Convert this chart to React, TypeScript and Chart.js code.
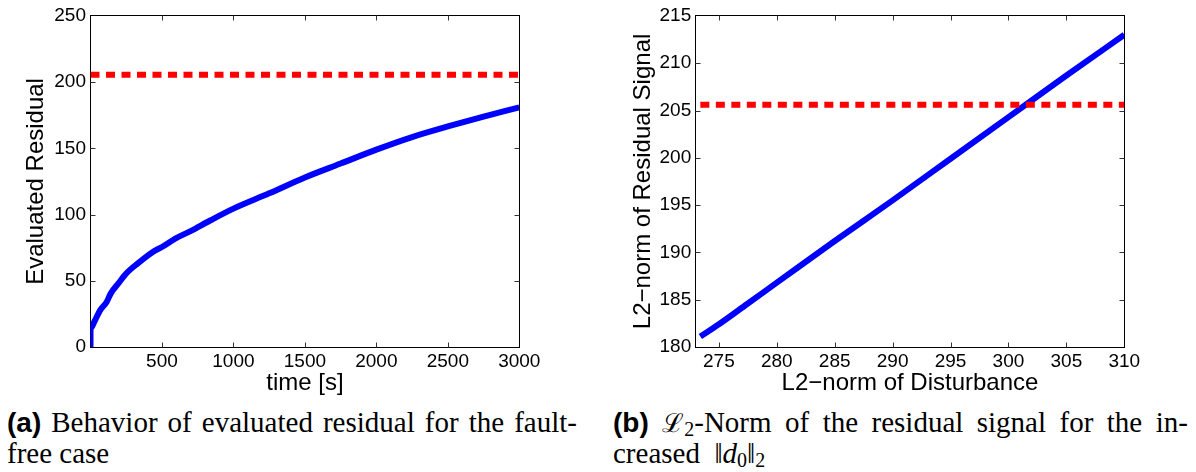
import React, { useEffect, useRef } from 'react';
import { Chart, registerables } from 'chart.js';

Chart.register(...registerables);

// ---------- Panel (a): evaluated residual over time ----------
const timeSeconds = [0, 0, 31, 67, 113, 142, 195, 250, 329, 436, 500, 596, 700, 837, 1000, 1250, 1500, 1750, 2000, 2250, 2500, 2750, 3000];
const evaluatedResidual = [0, 14, 20, 27.7, 34, 40.5, 48, 55.5, 63, 71.8, 75.5, 82, 87.5, 95.5, 104.5, 116, 128, 138.5, 149, 158.5, 166.5, 174, 181];
const thresholdA = 205.6;
const xRangeA = [0, 3000];
const yRangeA = [0, 250];
const xTicksA = [500, 1000, 1500, 2000, 2500, 3000];
const yTicksA = [0, 50, 100, 150, 200, 250];

// ---------- Panel (b): L2-norm of residual vs. disturbance ----------
const disturbanceNorm = [273.4, 275, 277.5, 280, 285, 290, 295, 300, 305, 310];
const residualNorm = [181.1, 182.4, 184.6, 186.8, 191.2, 195.5, 199.9, 204.3, 208.7, 213.0];
const thresholdB = 205.6;
const xRangeB = [273, 310];
const yRangeB = [180, 215];
const xTicksB = [275, 280, 285, 290, 295, 300, 305, 310];
const yTicksB = [180, 185, 190, 195, 200, 205, 210, 215];

const captionA1 = ['Behavior', 'of', 'evaluated', 'residual', 'for', 'the', 'fault-'];
const captionA2 = 'free case';
const captionB1 = ['of', 'the', 'residual', 'signal', 'for', 'the', 'in-'];

const SANS = '"Liberation Sans", Arial, Helvetica, sans-serif';
const SERIF = '"Liberation Serif", "Times New Roman", serif';

const matlabAxesPlugin = {
  id: 'matlabAxes',
  beforeDatasetsDraw(chart: any) {
    const { ctx, chartArea } = chart;
    const L = Math.floor(chartArea.left) + 0.5;
    const R = Math.floor(chartArea.right) + 0.5;
    const T = Math.floor(chartArea.top) + 0.5;
    const B = Math.floor(chartArea.bottom) + 0.5;
    ctx.save();
    ctx.strokeStyle = '#000';
    ctx.lineWidth = 1;
    ctx.strokeRect(L, T, R - L, B - T);
    ctx.strokeStyle = '#333';
    const len = 5;
    const xs = chart.scales.x;
    const ys = chart.scales.y;
    ctx.beginPath();
    for (const t of xs.ticks) {
      const px = Math.round(xs.getPixelForValue(t.value)) + 0.5;
      if (px <= L + 1 || px >= R - 1) continue;
      ctx.moveTo(px, B); ctx.lineTo(px, B - len);
      ctx.moveTo(px, T); ctx.lineTo(px, T + len);
    }
    for (const t of ys.ticks) {
      const py = Math.round(ys.getPixelForValue(t.value)) + 0.5;
      if (py <= T + 1 || py >= B - 1) continue;
      ctx.moveTo(L, py); ctx.lineTo(L + len, py);
      ctx.moveTo(R, py); ctx.lineTo(R - len, py);
    }
    ctx.stroke();
    ctx.restore();
  },
};

type PanelProps = {
  left: number;
  width: number;
  height: number;
  xs: number[];
  ys: number[];
  threshold: number;
  thresholdX: number[];
  xRange: number[];
  yRange: number[];
  xTicks: number[];
  yTicks: number[];
  xTitle: string;
  yTitle: string;
  yAxisWidth: number;
  plotRight: number;
  yTitlePad: number;
};

function Panel(p: PanelProps) {
  const ref = useRef<HTMLCanvasElement | null>(null);
  useEffect(() => {
    if (!ref.current) return;
    const chart = new Chart(ref.current, {
      type: 'line',
      data: {
        datasets: [
          {
            data: p.thresholdX.map((x) => ({ x, y: p.threshold })),
            borderColor: '#ff0000',
            borderWidth: 6,
            borderDash: [9, 6.5],
            borderCapStyle: 'butt',
            pointRadius: 0,
            fill: false,
            clip: 0,
          },
          {
            data: p.xs.map((x, i) => ({ x, y: p.ys[i] })),
            borderColor: '#0000ff',
            borderWidth: 6,
            pointRadius: 0,
            fill: false,
            cubicInterpolationMode: 'monotone',
            borderJoinStyle: 'round',
            clip: 0,
          },
        ],
      } as any,
      options: {
        responsive: false,
        animation: false,
        events: [],
        layout: { padding: { top: 13.3, right: p.width - p.plotRight, left: 0, bottom: 0 } },
        plugins: { legend: { display: false }, tooltip: { enabled: false } },
        scales: {
          x: {
            type: 'linear',
            min: p.xRange[0],
            max: p.xRange[1],
            grid: { display: false, drawTicks: false },
            border: { display: false },
            afterBuildTicks: (s: any) => { s.ticks = p.xTicks.map((v) => ({ value: v })); },
            afterFit: (s: any) => { s.height = p.height - 347; },
            ticks: {
              autoSkip: false,
              maxRotation: 0,
              padding: 3.3,
              color: '#000',
              font: { family: SANS, size: 19 },
              callback: (v: any) => String(v),
            },
            title: {
              display: true,
              text: p.xTitle,
              color: '#000',
              font: { family: SANS, size: 24, lineHeight: 1.2 },
              padding: { top: 0, bottom: 1.9 },
            },
          },
          y: {
            type: 'linear',
            min: p.yRange[0],
            max: p.yRange[1],
            grid: { display: false, drawTicks: false },
            border: { display: false },
            afterBuildTicks: (s: any) => { s.ticks = p.yTicks.map((v) => ({ value: v })); },
            afterFit: (s: any) => { s.width = p.yAxisWidth; },
            ticks: {
              autoSkip: false,
              padding: 4.5,
              color: '#000',
              font: { family: SANS, size: 19 },
              callback: (v: any) => String(v),
            },
            title: {
              display: true,
              text: p.yTitle,
              color: '#000',
              font: { family: SANS, size: 24, lineHeight: 1.2 },
              padding: { top: p.yTitlePad, bottom: 0 },
            },
          },
        },
      } as any,
      plugins: [matlabAxesPlugin],
    });
    return () => chart.destroy();
  }, []);
  return (
    <canvas
      ref={ref}
      width={p.width}
      height={p.height}
      style={{ position: 'absolute', left: p.left, top: 0, width: p.width, height: p.height, display: 'block' }}
    />
  );
}

const lineStyle: React.CSSProperties = {
  position: 'absolute',
  display: 'flex',
  justifyContent: 'space-between',
  alignItems: 'baseline',
  height: 32,
  lineHeight: '32px',
  fontFamily: SERIF,
  fontSize: 29,
  color: '#000',
  whiteSpace: 'nowrap',
};

const boldLabel: React.CSSProperties = {
  fontFamily: SANS,
  fontWeight: 'bold',
  fontSize: 28,
};

const subStyle: React.CSSProperties = { fontSize: 20, verticalAlign: '-4px', lineHeight: 0 };

export default function App() {
  return (
    <div style={{ position: 'absolute', left: 0, top: 0, width: 1196, height: 472, overflow: 'hidden', background: '#fff' }}>
      <Panel
        left={0}
        width={580}
        height={400}
        xs={timeSeconds}
        ys={evaluatedResidual}
        threshold={thresholdA}
        thresholdX={xRangeA}
        xRange={xRangeA}
        yRange={yRangeA}
        xTicks={xTicksA}
        yTicks={yTicksA}
        xTitle="time [s]"
        yTitle="Evaluated Residual"
        yAxisWidth={90.5}
        plotRight={519.3}
        yTitlePad={22.3}
      />
      <Panel
        left={600}
        width={596}
        height={400}
        xs={disturbanceNorm}
        ys={residualNorm}
        threshold={thresholdB}
        thresholdX={[disturbanceNorm[0], disturbanceNorm[disturbanceNorm.length - 1]]}
        xRange={xRangeB}
        yRange={yRangeB}
        xTicks={xTicksB}
        yTicks={yTicksB}
        xTitle="L2−norm of Disturbance"
        yTitle="L2−norm of Residual Signal"
        yAxisWidth={95.7}
        plotRight={524.3}
        yTitlePad={29.3}
      />
      <div style={{ ...lineStyle, left: 7, top: 406, width: 570 }}>
        <span style={boldLabel}>(a)</span>
        {captionA1.map((w, i) => (
          <span key={i}>{w}</span>
        ))}
      </div>
      <div style={{ ...lineStyle, left: 7, top: 437 }}>
        <span>{captionA2}</span>
      </div>
      <div style={{ ...lineStyle, left: 613, top: 406, width: 575 }}>
        <span style={boldLabel}>(b)</span>
        <span>
          <span style={{ fontFamily: '"DejaVu Serif", serif', fontSize: 26 }}>ℒ</span>
          <sub style={subStyle}>2</sub>-Norm
        </span>
        {captionB1.map((w, i) => (
          <span key={i}>{w}</span>
        ))}
      </div>
      <div style={{ ...lineStyle, left: 613, top: 437 }}>
        <span>
          creased&nbsp;&nbsp;‖<i>d</i>
          <sub style={subStyle}>0</sub>‖
          <sub style={subStyle}>2</sub>
        </span>
      </div>
    </div>
  );
}
